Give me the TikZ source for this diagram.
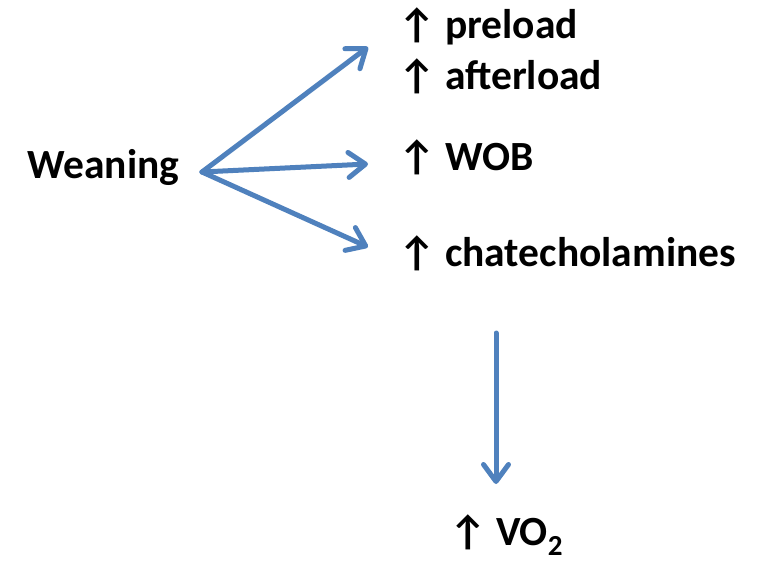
\documentclass[tikz,border=0pt]{standalone}
\usepackage{fontspec}
\setmainfont{Carlito}
\usetikzlibrary{arrows.meta}
\definecolor{flowblue}{HTML}{4F81BD}
\begin{document}
\begin{tikzpicture}[x=1pt,y=-1pt,
  lbl/.style={anchor=base west, inner sep=0pt, font=\fontsize{41.5}{50}\selectfont\bfseries},
  flow/.style={draw=flowblue, line width=5pt, line cap=round,
    -{Straight Barb[length=17pt, width=25pt, round]}}]
\useasboundingbox[fill=white] (0,0) rectangle (764,562);
% cause
\node[lbl] (wean) at (27,178) {Weaning};
\coordinate (src) at (202,172);
% effects
\node[lbl] (pre) at (398,38) {↑ preload};
\node[lbl] (aft) at (398,89) {↑ afterload};
\node[lbl] (wob) at (398,170) {↑ WOB};
\node[lbl] (cat) at (398,266) {↑ chatecholamines};
\node[lbl] (vo) at (449,545) {↑ VO\textsubscript{2}};
% arrow tips
\coordinate (t1) at (368,47);
\coordinate (t2) at (368,164);
\coordinate (t3) at (368,247);
\coordinate (vtop) at (496,333);
\coordinate (vtip) at (496,484);
\draw[flow] (src) -- (t1);
\draw[flow] (src) -- (t2);
\draw[flow] (src) -- (t3);
\draw[flow] (vtop) -- (vtip);
\end{tikzpicture}
\end{document}
